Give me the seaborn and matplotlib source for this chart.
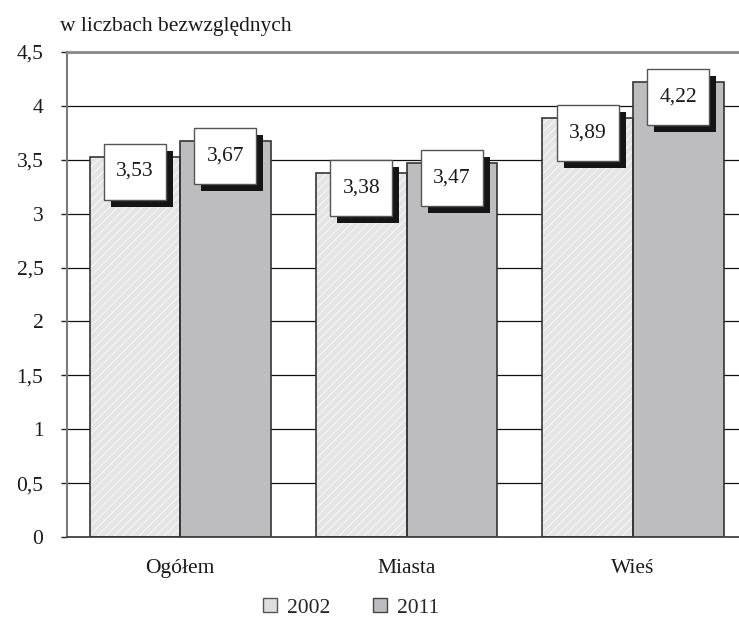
import matplotlib
matplotlib.use("Agg")
import matplotlib.pyplot as plt
import matplotlib.transforms as mtransforms
import seaborn as sns
import pandas as pd
from matplotlib.patches import Patch, Rectangle

categories = ["Ogółem", "Miasta", "Wieś"]
years = ["2002", "2011"]
values_2002 = [3.53, 3.38, 3.89]
values_2011 = [3.67, 3.47, 4.22]
yticks = [0, 0.5, 1, 1.5, 2, 2.5, 3, 3.5, 4, 4.5]
title = "w liczbach bezwzględnych"

colors = {"2002": "#e4e4e5", "2011": "#bcbdc0"}

df = pd.DataFrame({
    "kategoria": categories * 2,
    "rok": [years[0]] * 3 + [years[1]] * 3,
    "wartosc": values_2002 + values_2011,
})

sns.set_style("white")
plt.rcParams["font.family"] = ["Liberation Serif", "DejaVu Serif"]
plt.rcParams["hatch.linewidth"] = 0.8

fs = 15.5
fig = plt.figure(figsize=(7.39, 6.22), dpi=100)
ax = fig.add_axes([67 / 739, 1 - 537 / 622, 1 - 67 / 739, (537 - 52) / 622])

sns.barplot(data=df, x="kategoria", y="wartosc", hue="rok", palette=colors,
            width=0.8, legend=False, ax=ax, zorder=2)

edge = "#353535"
# light bars: white hatch, then a dark outline on top
for p in ax.containers[0]:
    p.set_edgecolor("#f6f6f6")
    p.set_hatch("////")
    p.set_linewidth(0)
    ax.add_patch(Rectangle(p.get_xy(), p.get_width(), p.get_height(), fill=False,
                           edgecolor=edge, lw=1.2, zorder=3))
for p in ax.containers[1]:
    p.set_edgecolor(edge)
    p.set_linewidth(1.2)

# value boxes (62x56 px) with a black drop shadow, placed in pixels around the bar top
box_w, box_h, drop, shift = 62, 56, 7, -15
for cont, vals in zip(ax.containers, [values_2002, values_2011]):
    for p, v in zip(cont, vals):
        cx = p.get_x() + p.get_width() / 2
        anchor = mtransforms.ScaledTranslation(cx, v, ax.transData)
        ax.add_patch(Rectangle((-box_w / 2 + drop, shift - box_h / 2 - drop), box_w, box_h,
                               transform=anchor, fc="#151515", ec="none",
                               zorder=5, clip_on=False))
        ax.add_patch(Rectangle((-box_w / 2, shift - box_h / 2), box_w, box_h,
                               transform=anchor, fc="white", ec="#555555", lw=1,
                               zorder=6, clip_on=False))
        ax.annotate(f"{v:.2f}".replace(".", ","), (cx, v), xytext=(0, shift),
                    textcoords="offset pixels", ha="center", va="center",
                    fontsize=fs, color="#1a1a1a", zorder=7)

ax.set_xlim(-0.5, 2.468)
ax.set_ylim(0, 4.5)
ax.set_yticks(yticks)
ax.set_yticklabels([f"{t:g}".replace(".", ",") for t in yticks], fontsize=fs)
ax.tick_params(axis="y", which="both", left=True, length=4.5, width=1, color="#222222",
               pad=12.5, labelcolor="#1a1a1a")
ax.tick_params(axis="x", length=0, pad=16, labelsize=fs, labelcolor="#1a1a1a")
ax.set_xlabel("")
ax.set_ylabel("")

ax.yaxis.grid(True, color="#111111", lw=0.9)
ax.set_axisbelow(True)
ax.spines["right"].set_visible(False)
ax.spines["top"].set_color("#8a8a8a")
ax.spines["top"].set_linewidth(2)
ax.spines["left"].set_color("#7a7a7a")
ax.spines["left"].set_linewidth(1.5)
ax.spines["bottom"].set_color("#444444")
ax.spines["bottom"].set_linewidth(1.3)

fig.text(60 / 739, 1 - 26 / 622, title, fontsize=fs, ha="left", va="center", color="#1a1a1a")

handles = [Patch(facecolor="#dedede", edgecolor="#555555", lw=1),
           Patch(facecolor=colors["2011"], edgecolor="#444444", lw=1)]
fig.legend(handles, years, loc="center", bbox_to_anchor=(351 / 739, 1 - 608 / 622),
           ncol=2, frameon=False, fontsize=fs, handlelength=0.65, handleheight=0.65,
           handletextpad=0.45, columnspacing=2.0)

fig.savefig("out.png", dpi=100)
